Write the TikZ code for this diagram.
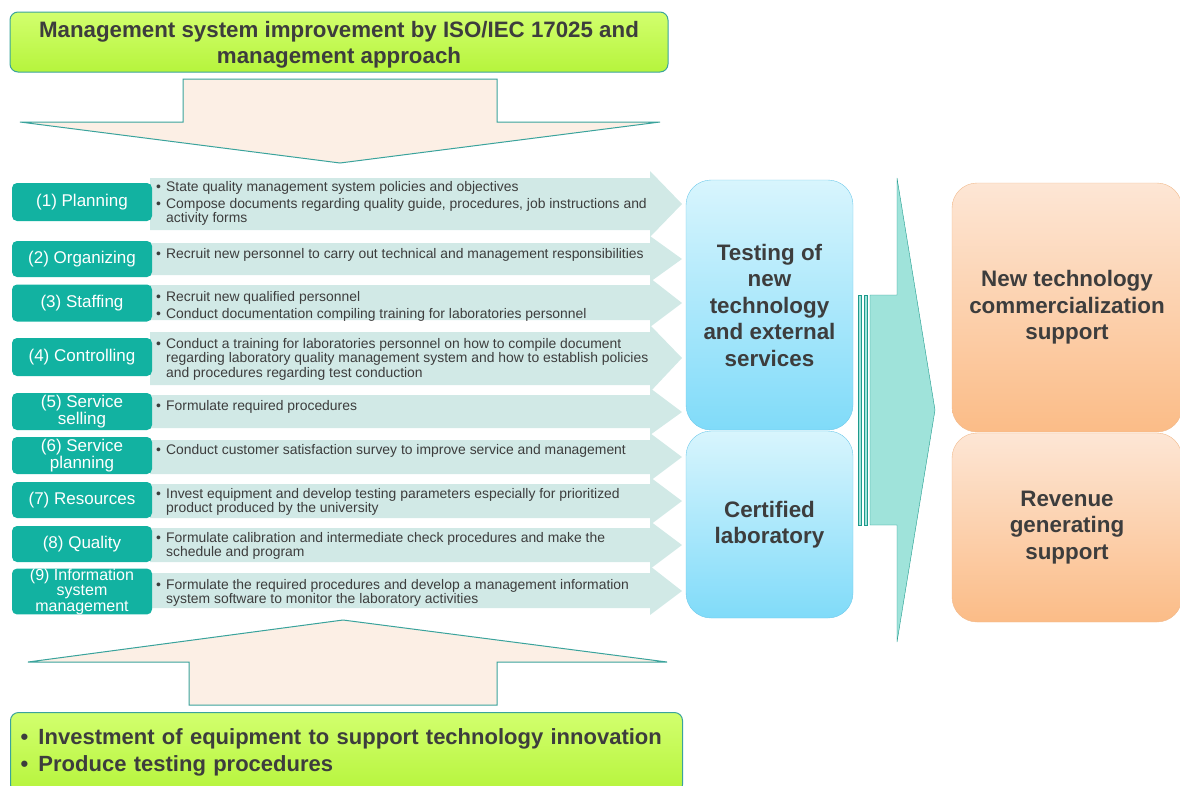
\documentclass[tikz,border=0pt]{standalone}
\usepackage{fontspec}
\setmainfont{Liberation Sans}
\usepackage{xcolor}
\usetikzlibrary{positioning}

\definecolor{frame}{HTML}{3AA39C}
\definecolor{limetop}{HTML}{D2FF6E}
\definecolor{limebot}{HTML}{B6F43C}
\definecolor{peach}{HTML}{FCEFE5}
\definecolor{tealbox}{HTML}{12B2A1}
\definecolor{rowfill}{HTML}{D1E9E6}
\definecolor{txt}{HTML}{3D3D3D}
\definecolor{bluetop}{HTML}{D8F5FD}
\definecolor{bluebot}{HTML}{80DBF9}
\definecolor{blueline}{HTML}{6FC9EA}
\definecolor{aqua}{HTML}{9FE3DA}
\definecolor{aqualine}{HTML}{1E9A8C}
\definecolor{orangetop}{HTML}{FDE6D5}
\definecolor{orangebot}{HTML}{FBBC87}
\definecolor{orangeline}{HTML}{F1BA8C}

\newcommand{\bul}{\makebox[10pt][l]{\textbullet}}
\newcommand{\cont}{\makebox[10pt][l]{}}

\tikzset{
  goalbox/.style={draw=frame, line width=1pt, rounded corners=8pt, top color=limetop, bottom color=limebot, text=txt, inner sep=0pt},
  bigarrow/.style={draw=frame, line width=1pt, fill=peach},
  steplabel/.style={fill=tealbox, rounded corners=5pt, text=white, minimum width=140pt, align=center, inner sep=0pt, font=\fontsize{17}{17}\selectfont},
  rowtext/.style={anchor=north west, inner sep=0pt, align=left, text=txt, font=\fontsize{13.9}{14.5}\selectfont},
  labbox/.style={draw=blueline, rounded corners=25pt, top color=bluetop, bottom color=bluebot, minimum width=167pt, align=center, text=txt, font=\fontsize{22.4}{26.5}\selectfont\bfseries},
  resultbox/.style={draw=orangeline, rounded corners=25pt, top color=orangetop, bottom color=orangebot, minimum width=230pt, align=center, text=txt, font=\fontsize{22.4}{26.5}\selectfont\bfseries}
}

\begin{document}
\begin{tikzpicture}[x=1pt,y=-1pt]
\useasboundingbox (0,0) rectangle (1180,785);

% top goal and arrow down
\node[goalbox, minimum width=658pt, minimum height=60pt, align=center, text depth=0pt, font=\fontsize{22.3}{26}\selectfont\bfseries] (goal) at (339,42) {Management system improvement by ISO/IEC 17025 and\\management approach};
\draw[bigarrow] (183,79) -- (497,79) -- (497,122) -- (660,122) -- (340,163) -- (20,122) -- (183,122) -- cycle;

% row arrows
\foreach \t/\b/\m in {178/230/204, 243/275/259, 285/320/303, 332/385/358, 395/428/412, 440/474/457, 484/518/501, 528/562/545, 573/608/591}
  \fill[rowfill] (150,\t) -- (650,\t) -- (650,\t-7) -- (682,\m) -- (650,\b+7) -- (650,\b) -- (150,\b) -- cycle;

% step labels
\node[steplabel, minimum height=38pt] (plan) at (82,202) {(1) Planning};
\node[steplabel, minimum height=36pt] (organ) at (82,259) {(2) Organizing};
\node[steplabel, minimum height=37pt] (staff) at (82,303) {(3) Staffing};
\node[steplabel, minimum height=38pt] (control) at (82,357) {(4) Controlling};
\node[steplabel, minimum height=37pt] (selling) at (82,411.5) {(5) Service\\selling};
\node[steplabel, minimum height=37pt] (splan) at (82,455.5) {(6) Service\\planning};
\node[steplabel, minimum height=36pt] (resource) at (82,500) {(7) Resources};
\node[steplabel, minimum height=36pt] (quality) at (82,544) {(8) Quality};
\node[steplabel, minimum height=43pt, font=\fontsize{16}{15.5}\selectfont] (infosys) at (82,591.5) {(9) Information\\system\\management};

% row texts
\node[rowtext] (plantxt) at (156,181) {\bul State quality management system policies and objectives\\[2.5pt]
  \bul Compose documents regarding quality guide, procedures, job instructions and\\\cont activity forms};
\node[rowtext] (organtxt) at (156,248) {\bul Recruit new personnel to carry out technical and management responsibilities};
\node[rowtext] (stafftxt) at (156,291) {\bul Recruit new qualified personnel\\[2.5pt]
  \bul Conduct documentation compiling training for laboratories personnel};
\node[rowtext] (controltxt) at (156,338) {\bul Conduct a training for laboratories personnel on how to compile document\\\cont regarding laboratory quality management system and how to establish policies\\\cont and procedures regarding test conduction};
\node[rowtext] (sellingtxt) at (156,400) {\bul Formulate required procedures};
\node[rowtext] (splantxt) at (156,444) {\bul Conduct customer satisfaction survey to improve service and management};
\node[rowtext] (resourcetxt) at (156,488) {\bul Invest equipment and develop testing parameters especially for prioritized\\\cont product produced by the university};
\node[rowtext] (qualitytxt) at (156,532) {\bul Formulate calibration and intermediate check procedures and make the\\\cont schedule and program};
\node[rowtext] (infosystxt) at (156,579) {\bul Formulate the required procedures and develop a management information\\\cont system software to monitor the laboratory activities};

% laboratory boxes
\node[labbox, minimum height=250pt] (testing) at (769.5,305) {Testing of\\new\\technology\\and external\\services};
\node[labbox, minimum height=187pt] (certified) at (769.5,524.5) {Certified\\laboratory};

% striped arrow to results
\draw[aqualine, fill=aqua] (858,295) rectangle (861.5,525);
\draw[aqualine, fill=aqua] (864,295) rectangle (867,525);
\draw[aqualine, fill=aqua] (870,295) -- (897,295) -- (897,178) -- (935,410) -- (897,642) -- (897,525) -- (870,525) -- cycle;

% results
\node[resultbox, minimum height=249pt] (commerce) at (1067,307.5) {New technology\\commercialization\\support};
\node[resultbox, minimum height=189pt] (revenue) at (1067,527.5) {Revenue\\generating\\support};

% bottom arrow up and base
\draw[bigarrow] (189,705) -- (497,705) -- (497,662) -- (667,662) -- (343,620) -- (28,662) -- (189,662) -- cycle;
\node[goalbox, anchor=north west, minimum width=672pt, minimum height=80pt, text width=652pt, align=left, font=\fontsize{22}{27}\selectfont\bfseries] (base) at (10,712) {\makebox[18pt][l]{\textbullet}Investment of equipment to support technology innovation\\\makebox[18pt][l]{\textbullet}Produce testing procedures};
\end{tikzpicture}
\end{document}
